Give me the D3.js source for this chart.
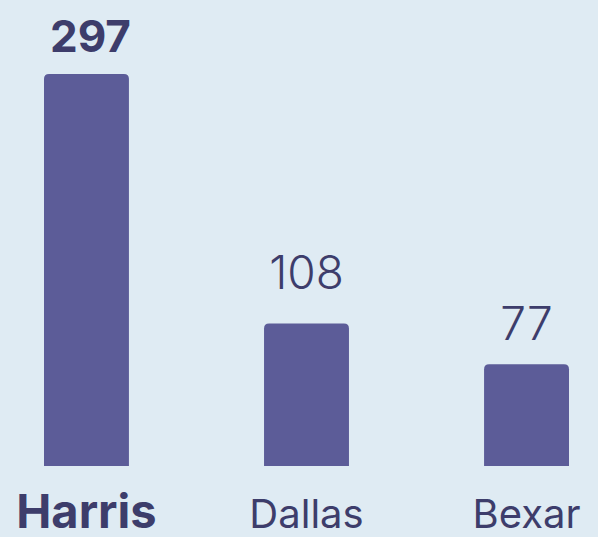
<!DOCTYPE html>
<html>
<head>
<meta charset="utf-8">
<script src="https://cdn.jsdelivr.net/npm/d3@7"></script>
<style>
  html, body { margin: 0; padding: 0; background: #dfebf3; }
  svg { display: block; }
</style>
</head>
<body>
<div id="chart"></div>
<script>
var counties = ["Harris", "Dallas", "Bexar"];
var counts = [297, 108, 77];
var highlighted = ["Harris"];

var width = 598, height = 537;
var baseline = 466;

var svg = d3.select("#chart").append("svg")
    .attr("width", width)
    .attr("height", height);

var x = d3.scaleBand()
    .domain(counties)
    .range([44, 569])
    .paddingInner(0.614)
    .paddingOuter(0);

var y = d3.scaleLinear()
    .domain([0, 297])
    .range([baseline, 74]);

function isHi(d) { return highlighted.indexOf(d) >= 0; }

// bars with rounded top corners only
function barPath(x0, y0, w, h, r) {
  return "M" + x0 + "," + (y0 + h) +
    "V" + (y0 + r) +
    "Q" + x0 + "," + y0 + " " + (x0 + r) + "," + y0 +
    "H" + (x0 + w - r) +
    "Q" + (x0 + w) + "," + y0 + " " + (x0 + w) + "," + (y0 + r) +
    "V" + (y0 + h) + "Z";
}

svg.selectAll("path.bar")
    .data(counties)
    .enter()
    .append("path")
    .attr("class", "bar")
    .attr("fill", "#5c5c98")
    .attr("d", function(d, i) {
      return barPath(x(d), y(counts[i]), x.bandwidth(), baseline - y(counts[i]), 5);
    });

// gap between value label and bar top (the middle one sits a bit higher)
var labelGap = { Harris: 22, Dallas: 34, Bexar: 24 };

svg.selectAll("text.value")
    .data(counties)
    .enter()
    .append("text")
    .attr("class", "value")
    .attr("x", function(d) { return x(d) + x.bandwidth() / 2 + (isHi(d) ? 4 : 0); })
    .attr("y", function(d, i) { return y(counts[i]) - labelGap[d]; })
    .attr("text-anchor", "middle")
    .attr("font-family", "Inter, sans-serif")
    .attr("font-size", function(d) { return isHi(d) ? 44 : 46; })
    .attr("font-weight", function(d) { return isHi(d) ? 700 : 300; })
    .attr("fill", "#3d3d6b")
    .text(function(d, i) { return counts[i]; });

svg.selectAll("text.label")
    .data(counties)
    .enter()
    .append("text")
    .attr("class", "label")
    .attr("x", function(d) { return x(d) + x.bandwidth() / 2; })
    .attr("y", 528)
    .attr("text-anchor", "middle")
    .attr("font-family", "Inter, sans-serif")
    .attr("font-size", function(d) { return isHi(d) ? 47 : 40; })
    .attr("font-weight", function(d) { return isHi(d) ? 700 : 400; })
    .attr("fill", "#3d3d6b")
    .text(function(d) { return d; });
</script>
</body>
</html>
